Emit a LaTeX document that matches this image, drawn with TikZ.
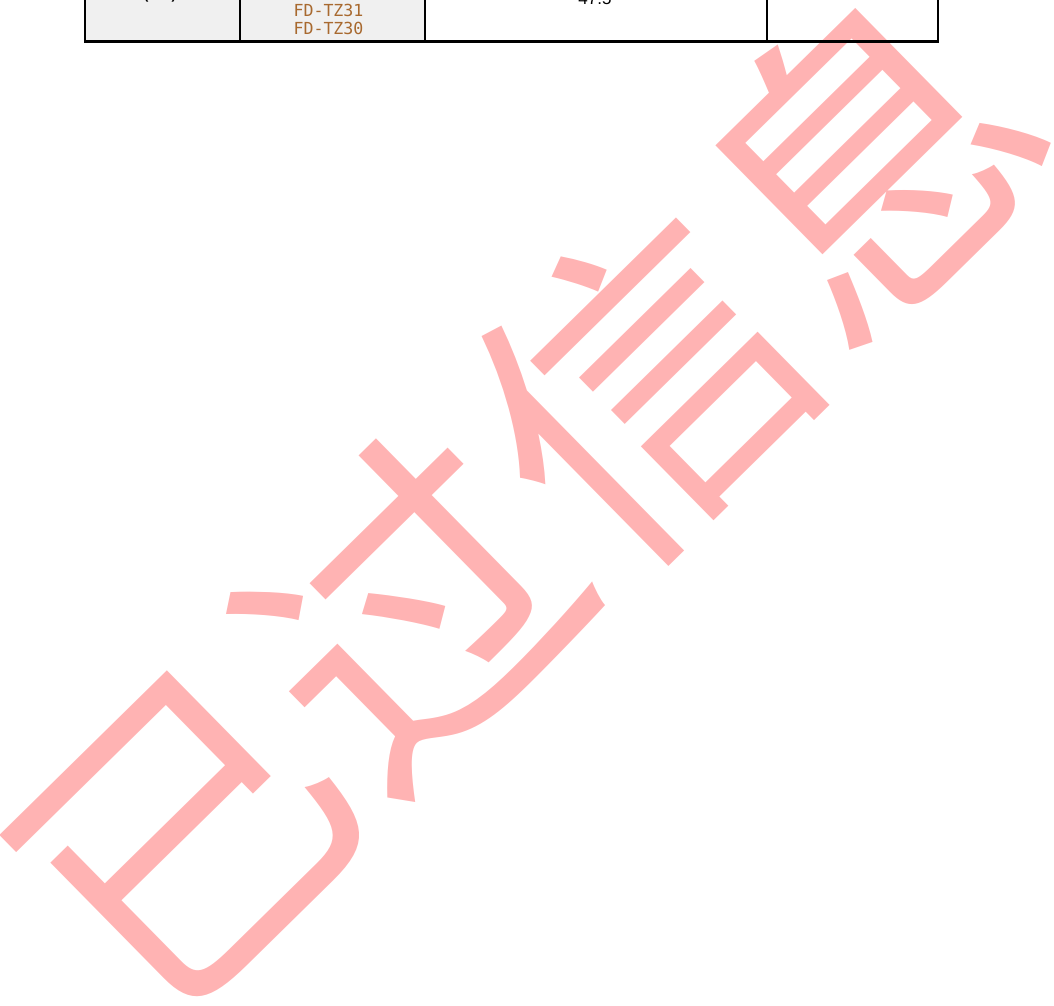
\documentclass[tikz,border=0pt]{standalone}
\usepackage{fontspec}
\setmainfont{Liberation Sans}
\newfontfamily\cjkwm{Noto Sans CJK SC}
\newfontfamily\monof{DejaVu Sans Mono}
\definecolor{wmpink}{HTML}{FFB3B3}
\definecolor{cellgray}{HTML}{F0F0F0}
\definecolor{codebrown}{HTML}{A8692F}
\tikzset{
  watermark/.style={anchor=base, rotate=44.5, inner sep=0pt, text=wmpink,
    font=\cjkwm\fontsize{321}{321}\selectfont},
  codetext/.style={inner sep=0pt, text=codebrown, align=center,
    font=\monof\fontsize{16.6}{18.5}\selectfont},
  celltext/.style={inner sep=0pt, anchor=base},
  rule/.style={line width=2.5pt, black}
}
\begin{document}
\begin{tikzpicture}[x=1pt,y=-1pt]
\useasboundingbox (0,0) rectangle (1054,1005);
\clip (0,0) rectangle (1054,1005);
% gray header cells
\fill[cellgray] (85,-10) rectangle (425,41.5);
% watermark
\node[watermark] (wm) at (611,585) {已过信息};
% cell texts
\node[celltext, font=\fontsize{13}{13}\selectfont\bfseries] (unit) at (160,-0.5) {(mm)};
\node[codetext, anchor=base] (codeA) at (328.5,16) {FD-TZ31};
\node[codetext, anchor=base] (codeB) at (328.5,34.5) {FD-TZ30};
\node[celltext, font=\fontsize{17}{17}\selectfont] (val) at (595,4) {47.5};
% table rules
\coordinate (c0) at (85,41.5);
\coordinate (c1) at (240,41.5);
\coordinate (c2) at (425,41.5);
\coordinate (c3) at (767,41.5);
\coordinate (c4) at (938,41.5);
\draw[rule] (85,-10) -- (c0);
\draw[rule] (240,-10) -- (c1);
\draw[rule] (425,-10) -- (c2);
\draw[rule] (767,-10) -- (c3);
\draw[rule] (938,-10) -- (c4);
\draw[rule, line cap=rect] (c0) -- (c4);
\end{tikzpicture}
\end{document}
